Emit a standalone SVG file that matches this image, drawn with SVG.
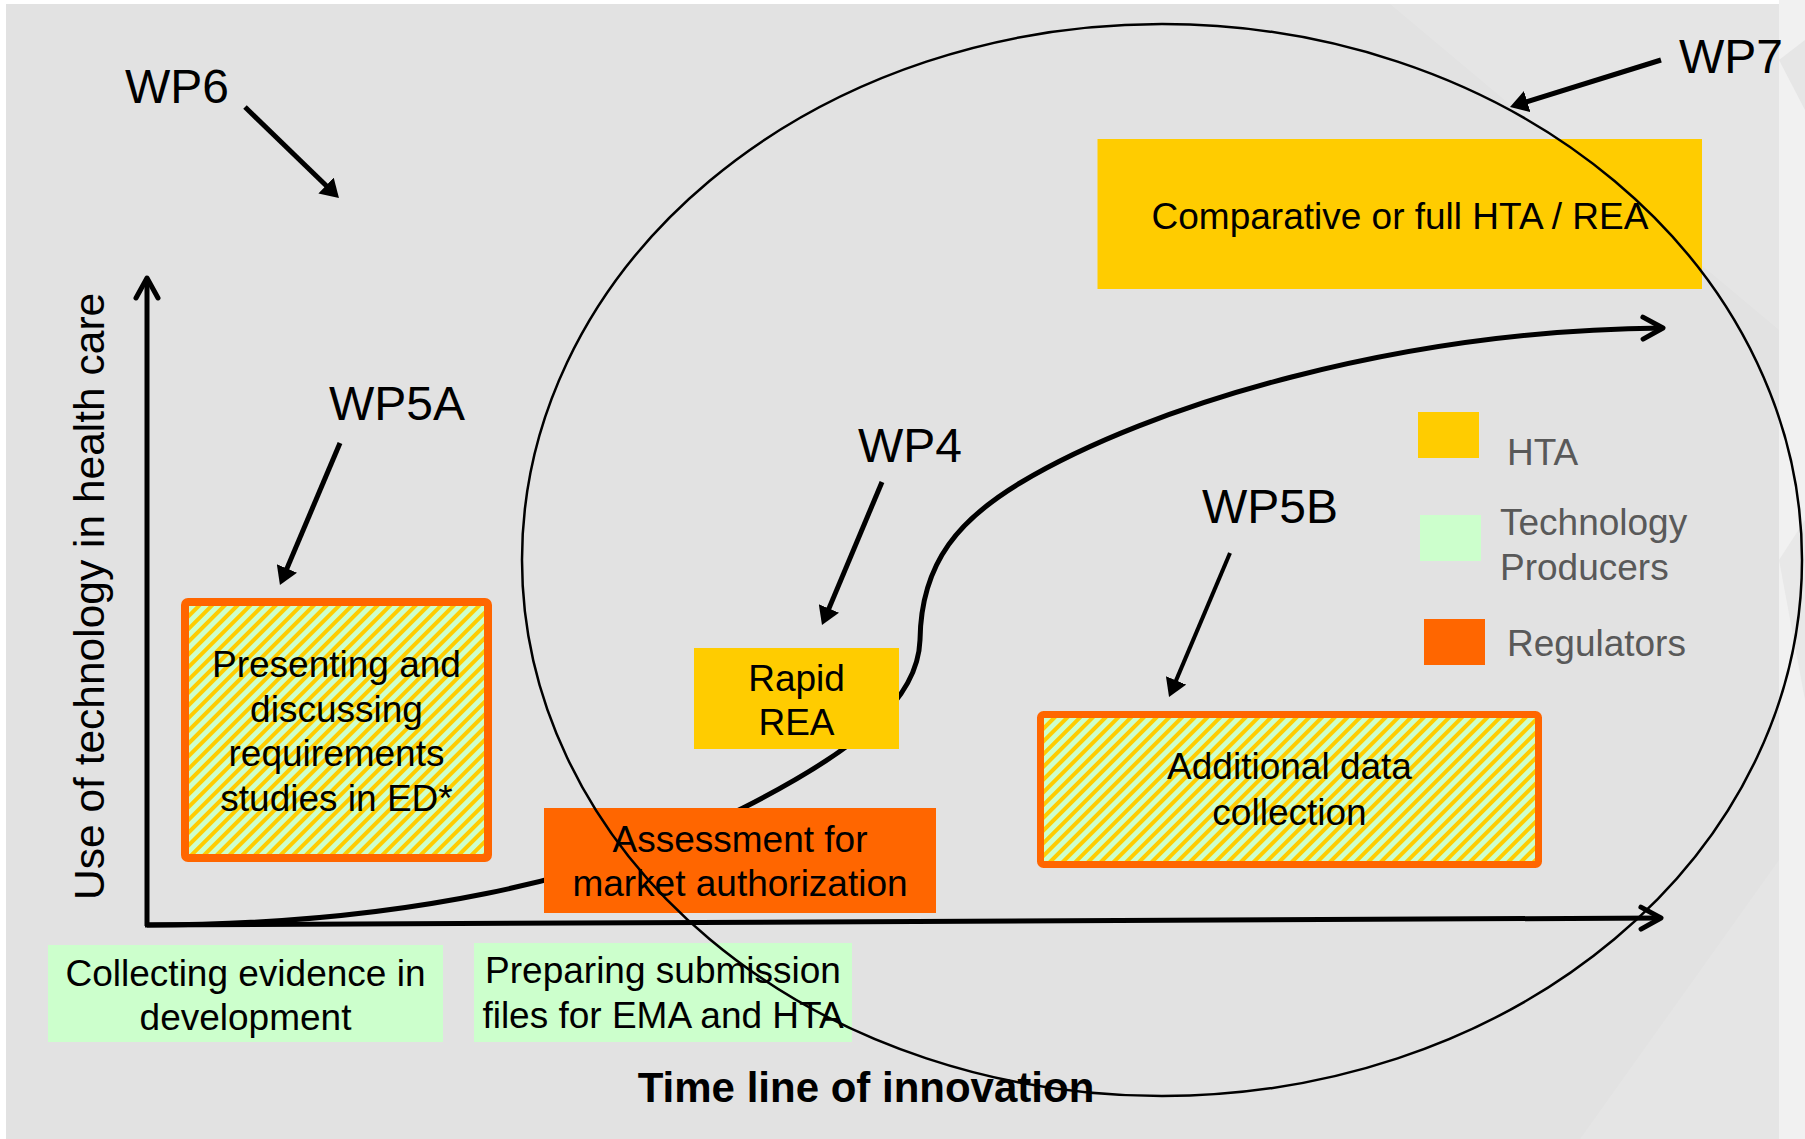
<svg xmlns="http://www.w3.org/2000/svg" width="1805" height="1139" viewBox="0 0 1805 1139">
  <style>
    .lbl { font-family: "Liberation Sans", Arial, sans-serif; font-size: 37px; fill: #000; text-anchor: middle; }
    .wp { font-family: "Liberation Sans", Arial, sans-serif; font-size: 48px; fill: #000; }
    .leg { font-family: "Liberation Sans", Arial, sans-serif; font-size: 37px; fill: #595959; }
    .axis-title { font-family: "Liberation Sans", Arial, sans-serif; font-size: 42.5px; fill: #000; }
    .hta { fill: #ffcc00; }
    .prod { fill: #ccffcc; }
    .reg { fill: #ff6600; }
    .mixed { fill: url(#hatch); stroke: #ff6600; stroke-width: 8; }
    .thick { fill: none; stroke: #000; stroke-width: 5; }
    .pointer { fill: none; stroke: #000; stroke-width: 5; marker-end: url(#head); }
  </style>
  <defs>
    <!-- diagonal yellow / green stripes for shared HTA + producer activities -->
    <pattern id="hatch" patternUnits="userSpaceOnUse" width="9" height="9" patternTransform="rotate(45)">
      <rect width="9" height="9" fill="#ccffcc"/>
      <rect width="4" height="9" fill="#ffcc00"/>
    </pattern>
    <!-- filled head for the WP pointers -->
    <marker id="head" markerUnits="userSpaceOnUse" viewBox="0 0 18 22" refX="4" refY="11" markerWidth="18" markerHeight="22" orient="auto">
      <path d="M0,0 L18,11 L0,22 z" fill="#000"/>
    </marker>
    <!-- open chevron for axes and the adoption curve -->
    <marker id="chev" markerUnits="userSpaceOnUse" viewBox="-4 -4 28 30" refX="20" refY="11" markerWidth="28" markerHeight="30" orient="auto">
      <path d="M0,0 L20,11 L0,22" fill="none" stroke="#000" stroke-width="5" stroke-linecap="round" stroke-linejoin="round"/>
    </marker>
  </defs>

  <!-- slide background -->
  <rect width="1805" height="1139" fill="#ffffff"/>
  <rect x="1779" y="0" width="26" height="1139" fill="#f1f1f1"/>
  <polygon points="1779,60 1805,40 1805,110" fill="#e6e6e6"/>
  <polygon points="1779,560 1805,520 1805,700" fill="#e8e8e8"/>
  <rect x="6" y="4" width="1773" height="1135" fill="#e2e2e2"/>
  <polygon points="1390,4 1779,4 1779,330" fill="#ffffff" opacity="0.12"/>
  <polygon points="1580,1139 1779,860 1779,1139" fill="#ffffff" opacity="0.1"/>

  <!-- connectors: axes, adoption curve, WP pointers -->
  <g id="connectors">
    <path class="thick" d="M147,926 V278" marker-end="url(#chev)"/>
    <path class="thick" d="M145,925 L1661,918" marker-end="url(#chev)"/>
    <path class="thick" d="M147,925 C400,925 600,880 743,808 C857,750 918,700 920,640 C921,560 962,518 1020,483 C1150,405 1400,330 1663,328" marker-end="url(#chev)"/>
    <line class="pointer" x1="245" y1="107" x2="328.9" y2="188.3"/>
    <line class="pointer" x1="1661" y1="60" x2="1523.4" y2="102.8"/>
    <line class="pointer" x1="340" y1="443" x2="285.4" y2="572.1"/>
    <line class="pointer" x1="882" y1="482" x2="827.4" y2="612.1"/>
    <line class="pointer" x1="1230" y1="553" x2="1174.5" y2="684.1" style="stroke-width:4"/>
  </g>

  <!-- activity boxes -->
  <g id="presenting">
    <rect class="mixed" x="185" y="602" width="303" height="256" rx="3"/>
    <text class="lbl"><tspan x="336.5" y="677">Presenting and</tspan><tspan x="336.5" y="721.5">discussing</tspan><tspan x="336.5" y="766">requirements</tspan><tspan x="336.5" y="810.5">studies in ED*</tspan></text>
  </g>
  <g id="rapid-rea">
    <rect class="hta" x="694" y="648" width="205" height="101"/>
    <text class="lbl"><tspan x="796.5" y="691">Rapid</tspan><tspan x="796.5" y="735">REA</tspan></text>
  </g>
  <g id="assessment">
    <rect class="reg" x="544" y="808" width="392" height="105"/>
    <text class="lbl"><tspan x="740" y="852">Assessment for</tspan><tspan x="740" y="896">market authorization</tspan></text>
  </g>
  <g id="comparative">
    <rect class="hta" x="1097.5" y="139" width="604.5" height="150"/>
    <text class="lbl" x="1400" y="229">Comparative or full HTA / REA</text>
  </g>
  <g id="additional">
    <rect class="mixed" x="1040.5" y="714.5" width="498" height="150" rx="3" style="stroke-width:7"/>
    <text class="lbl"><tspan x="1289.5" y="779">Additional data</tspan><tspan x="1289.5" y="825">collection</tspan></text>
  </g>
  <g id="collecting">
    <rect class="prod" x="48" y="945" width="395" height="97"/>
    <text class="lbl"><tspan x="245.5" y="986">Collecting evidence in</tspan><tspan x="245.5" y="1030">development</tspan></text>
  </g>
  <g id="preparing">
    <rect class="prod" x="474" y="943" width="378" height="99"/>
    <text class="lbl"><tspan x="663" y="983">Preparing submission</tspan><tspan x="663" y="1028">files for EMA and HTA</tspan></text>
  </g>

  <!-- WP7 scope -->
  <g id="wp7-scope">
    <ellipse cx="1162" cy="560" rx="640" ry="536" fill="none" stroke="#000" stroke-width="2.5"/>
  </g>

  <!-- work package labels -->
  <g id="wp-labels">
    <text class="wp" x="125" y="103">WP6</text>
    <text class="wp" x="1679" y="73">WP7</text>
    <text class="wp" x="329" y="420">WP5A</text>
    <text class="wp" x="858" y="462">WP4</text>
    <text class="wp" x="1202" y="523">WP5B</text>
  </g>

  <!-- legend -->
  <g id="legend">
    <rect class="hta" x="1418" y="412" width="61" height="46"/>
    <text class="leg" x="1507" y="465">HTA</text>
    <rect class="prod" x="1420" y="515" width="61" height="46"/>
    <text class="leg"><tspan x="1500" y="535">Technology</tspan><tspan x="1500" y="580">Producers</tspan></text>
    <rect class="reg" x="1424" y="619" width="61" height="46"/>
    <text class="leg" x="1507" y="656">Regulators</text>
  </g>

  <!-- axis titles -->
  <g id="axis-titles">
    <text class="axis-title" transform="translate(104,900) rotate(-90)">Use of technology in health care</text>
    <text x="866" y="1102" style="font-family:'Liberation Sans',Arial,sans-serif;font-size:42px;font-weight:bold;text-anchor:middle;fill:#000">Time line of innovation</text>
  </g>
</svg>
